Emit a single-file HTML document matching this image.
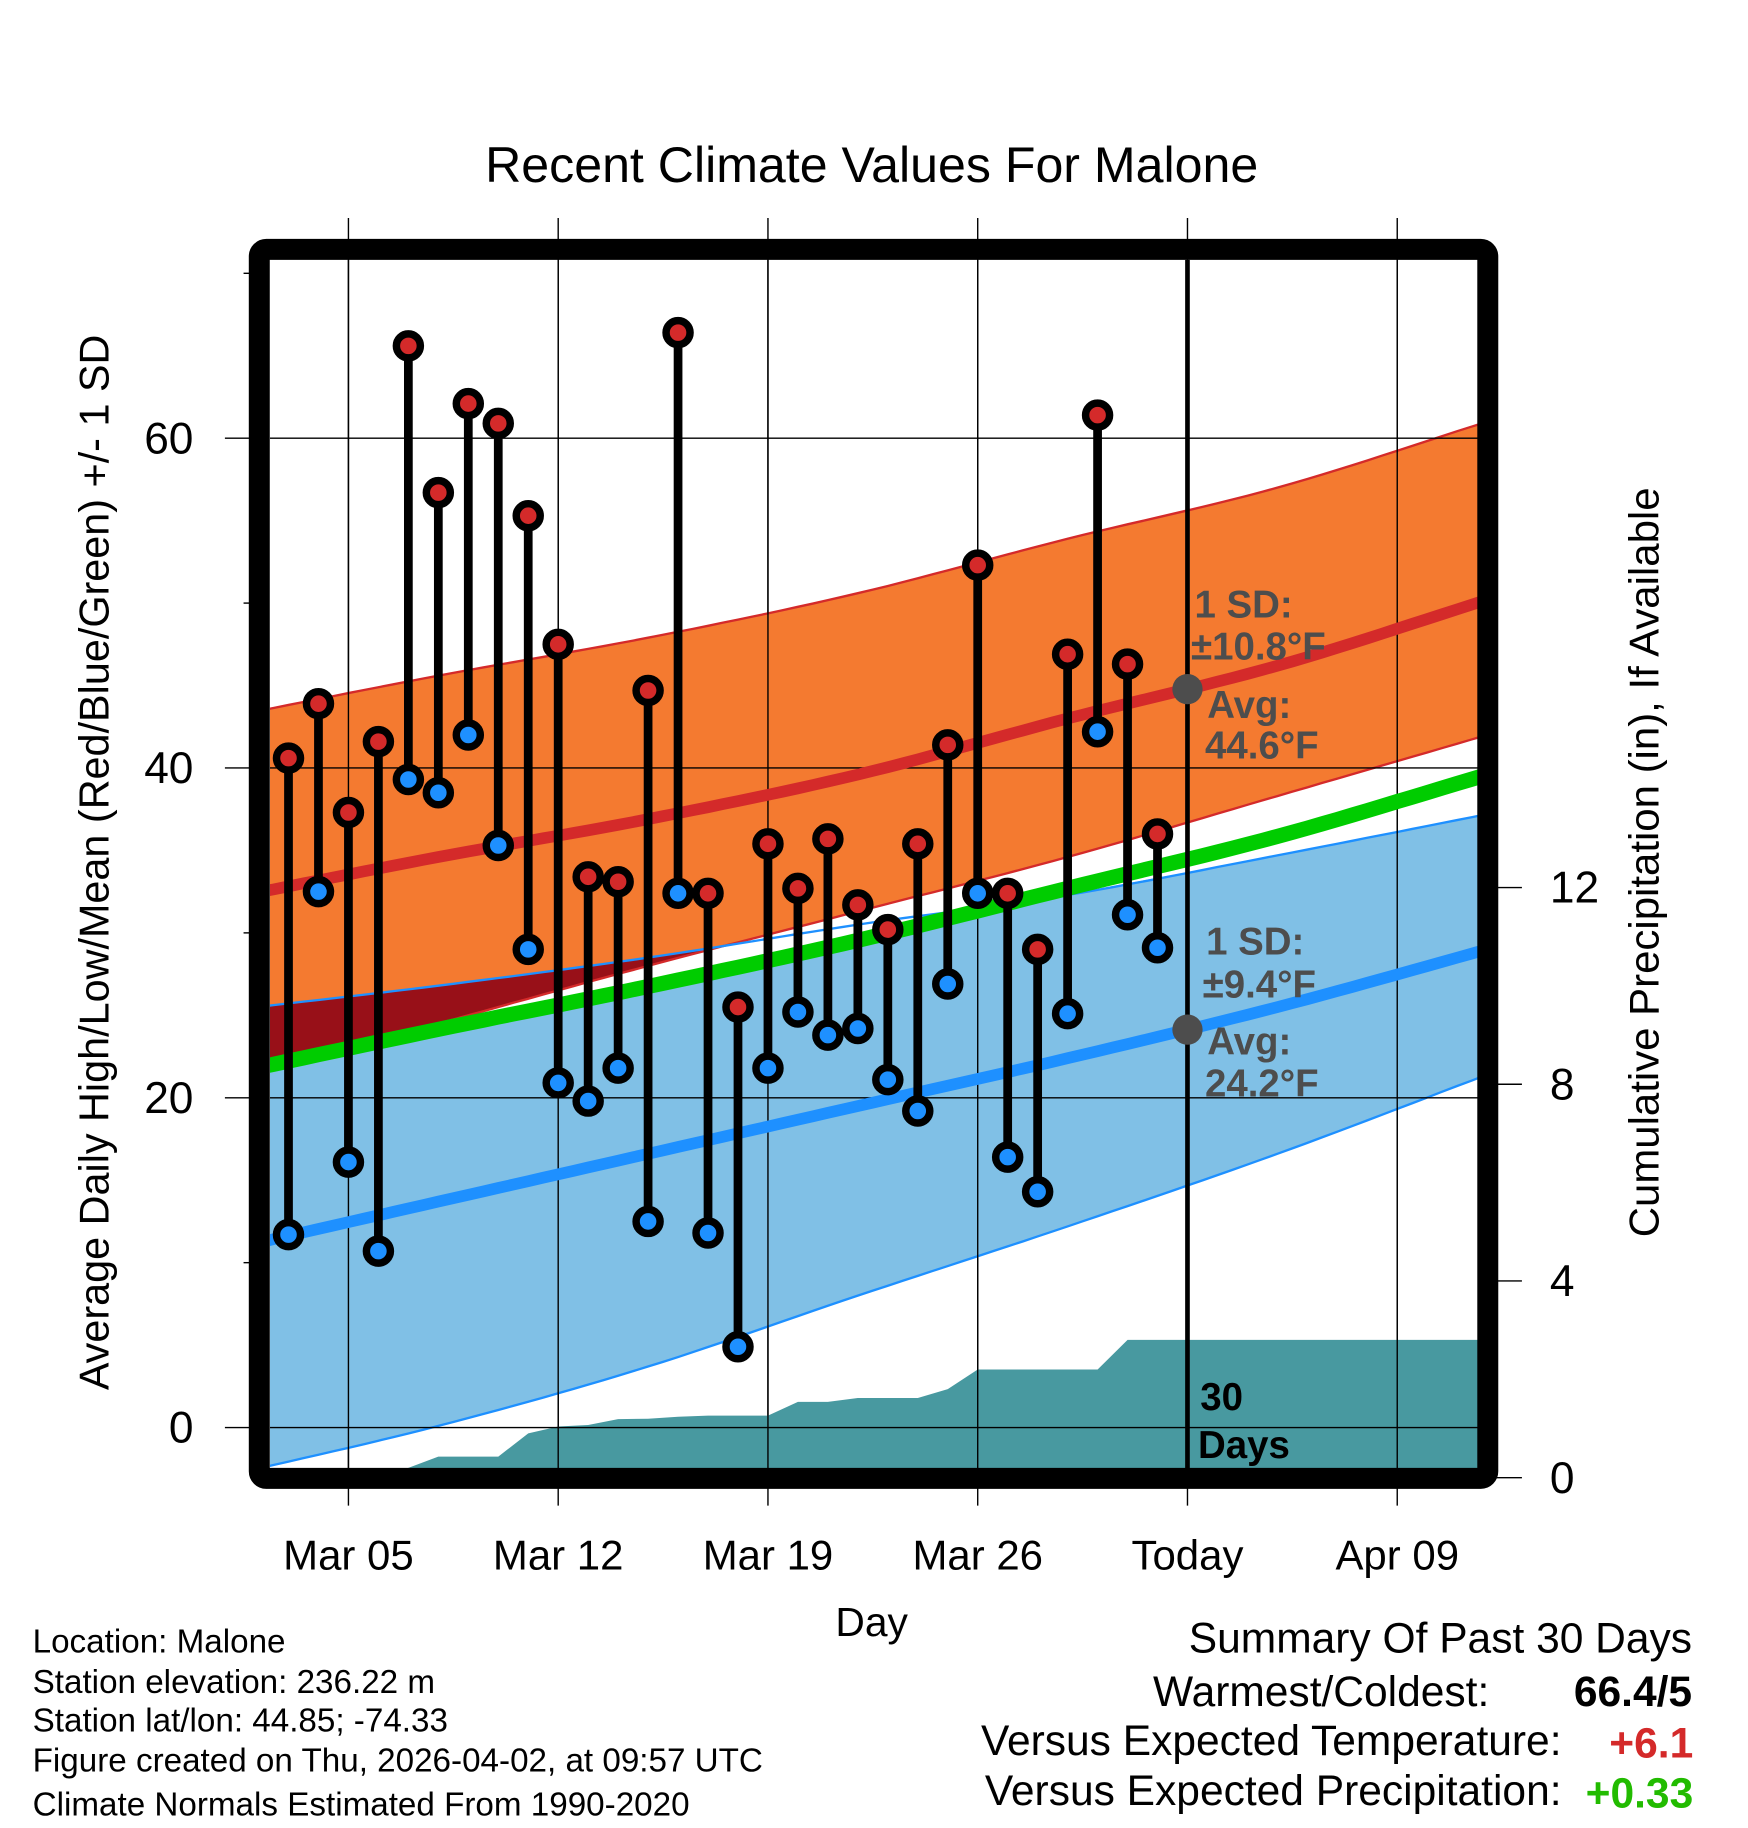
<!DOCTYPE html>
<html><head><meta charset="utf-8"><style>
html,body{margin:0;padding:0;background:#fff;}
svg{display:block;font-family:"Liberation Sans",Arial,sans-serif;}
</style></head><body>
<svg id="chart" width="1748" height="1828" viewBox="0 0 1500 1568.6" xmlns="http://www.w3.org/2000/svg">
<defs>
<clipPath id="plotClip"><rect x="231.7" y="223" width="1036.3" height="1037"/></clipPath>
<clipPath id="orangeClip"><path id="orangeClipPath" d=""/></clipPath>
</defs>
<text x="748" y="156" font-size="43" text-anchor="middle">Recent Climate Values For Malone</text>
<g id="grid"></g>
<g id="plot" clip-path="url(#plotClip)"></g>
<g id="marks"></g>
<rect x="222.5" y="214" width="1054.2" height="1054.6" rx="6" fill="none" stroke="#000" stroke-width="18"/>
<g id="axes"></g>
<text transform="translate(93,740) rotate(-90)" font-size="35.5" text-anchor="middle">Average Daily High/Low/Mean (Red/Blue/Green) +/- 1 SD</text>
<text transform="translate(1423,740) rotate(-90)" font-size="36" text-anchor="middle">Cumulative Precipitation (in), If Available</text>
<text x="748" y="1404" font-size="35" text-anchor="middle">Day</text>
<g font-size="28.5">
<text x="28" y="1418">Location: Malone</text>
<text x="28" y="1453">Station elevation: 236.22 m</text>
<text x="28" y="1486">Station lat/lon: 44.85; -74.33</text>
<text x="28" y="1520">Figure created on Thu, 2026-04-02, at 09:57 UTC</text>
<text x="28" y="1558">Climate Normals Estimated From 1990-2020</text>
</g>
<g font-size="36.5">
<text x="1452" y="1418" text-anchor="end">Summary Of Past 30 Days</text>
<text x="1278" y="1464" text-anchor="end">Warmest/Coldest:</text>
<text x="1452" y="1464" text-anchor="end" font-weight="bold">66.4/5</text>
<text x="1340" y="1506" text-anchor="end">Versus Expected Temperature:</text>
<text x="1453" y="1508" text-anchor="end" font-weight="bold" fill="#d42a2a">+6.1</text>
<text x="1340" y="1549" text-anchor="end">Versus Expected Precipitation:</text>
<text x="1453" y="1551" text-anchor="end" font-weight="bold" fill="#22bb00">+0.33</text>
</g>
</svg>
<script>
// ---- data ----
const obsDays = [2,3,4,5,6,7,8,9,10,11,12,13,14,15,16,17,18,19,20,21,22,23,24,25,26,27,28,29,30,31];
const highs = [40.6,43.9,37.3,41.6,65.6,56.7,62.1,60.9,55.3,47.5,33.4,33.1,44.7,66.4,32.4,25.5,35.4,32.7,35.7,31.7,30.2,35.4,41.4,52.3,32.4,29.0,46.9,61.4,46.3,36.0];
const lows = [11.7,32.5,16.1,10.7,39.3,38.5,42.0,35.3,29.0,20.9,19.8,21.8,12.5,32.4,11.8,4.9,21.8,25.2,23.8,24.2,21.1,19.2,26.9,32.4,16.4,14.3,25.1,42.2,31.1,29.1];
const precipCum = [0,0,0,0,0.2,0.43,0.43,0.43,0.9,1.04,1.07,1.19,1.2,1.24,1.26,1.26,1.26,1.54,1.54,1.62,1.62,1.62,1.8,2.2,2.2,2.2,2.2,2.2,2.8,2.8];
const normDays = [0,7,14,21,28,35,42];
const normHigh = [32.1,34.6,36.9,39.6,43.0,46.2,50.2];
const normHighUp = [43.1,45.6,47.9,50.6,53.9,57.0,61.0];
const normHighLo = [21.0,24.5,28.0,31.3,34.6,38.3,42.0];
const normLow = [10.8,13.7,16.6,19.5,22.4,25.5,29.0];
const normLowUp = [25.3,26.8,28.5,30.5,32.3,34.7,37.2];
const normLowLo = [-2.9,0.1,3.7,8.0,12.2,16.6,21.4];
const xTickDays = [4,11,18,25,32,39];
const xTickLabels = ["Mar 05","Mar 12","Mar 19","Mar 26","Today","Apr 09"];
const yTicks = [0,20,40,60];
const yMinorTicks = [10,30,50,70];
const y2Ticks = [0,4,8,12];
const todayDay = 32;

// ---- scales ----
const X = d => 299 + (d - 4) * 180 / 7;
const Y = v => 1225 - v * 14.15;
const Y2 = p => 1268 - p * 42.2;
const NS = "http://www.w3.org/2000/svg";
function mk(tag, parent, attrs){ const e=document.createElementNS(NS,tag); for(const k in attrs) e.setAttribute(k,attrs[k]); parent.appendChild(e); return e; }
function interp(arr, d){
  const n=normDays.length, h=normDays[1]-normDays[0];
  let i=Math.floor((d-normDays[0])/h);
  if(i < 0) i=0; if(i > n-2) i=n-2;
  const t=(d-normDays[i])/h;
  const p1=arr[i], p2=arr[i+1];
  const p0 = i>0 ? arr[i-1] : 2*p1-p2;
  const p3 = i+2<n ? arr[i+2] : 2*p2-p1;
  const t2=t*t, t3=t2*t;
  return 0.5*((2*p1)+(-p0+p2)*t+(2*p0-5*p1+4*p2-p3)*t2+(-p0+3*p1-3*p2+p3)*t3);
}
const sampleDays=[]; for(let d=0; d <= 43; d+=0.5) sampleDays.push(d);
const meanArr = normHigh.map((h,i)=>(h+normLow[i])/2);
function linePts(arr){ return sampleDays.map(d=>X(d).toFixed(1)+","+Y(interp(arr,d)).toFixed(1)).join(" "); }
function bandPath(up, lo){ const a=sampleDays.map(d=>X(d).toFixed(1)+","+Y(interp(up,d)).toFixed(1)); const b=sampleDays.slice().reverse().map(d=>X(d).toFixed(1)+","+Y(interp(lo,d)).toFixed(1)); return "M"+a.join("L")+"L"+b.join("L")+"Z"; }

const grid=document.getElementById("grid");
const plot=document.getElementById("plot");
const marks=document.getElementById("marks");
const axes=document.getElementById("axes");

let el;
el = mk("path", plot, {d: bandPath(normHighUp, normHighLo), fill:"#f47a30", stroke:"none"});


document.getElementById("orangeClipPath").setAttribute("d", bandPath(normHighUp, normHighLo));
el = mk("path", plot, {d: bandPath(normLowUp, normLowLo), fill:"#981018", stroke:"none", "clip-path":"url(#orangeClip)"});


const lowTop = normLowUp.map((u,i)=>Math.min(u, meanArr[i]));
el = mk("path", plot, {d: bandPath(lowTop, normLowLo), fill:"#80c0e6", stroke:"none"});


[[normHighUp,"#d42a2a"],[normHighLo,"#d42a2a"],[normLowUp,"#1e90ff"],[normLowLo,"#1e90ff"]].forEach(([a,c])=>{
  el = mk("polyline", plot, {points: linePts(a), fill:"none", stroke:c, "stroke-width":2});
  
  
});
(function(){
  let pts=[[X(0),Y2(0)],[X(obsDays[0]-1),Y2(0)]];
  obsDays.forEach((d,i)=>pts.push([X(d),Y2(precipCum[i])]));
  pts.push([X(44),Y2(precipCum[precipCum.length-1])],[X(44),Y2(0)]);
  el = mk("path", plot, {d:"M"+pts.map(p=>p[0].toFixed(1)+","+p[1].toFixed(1)).join("L")+"Z", fill:"#4899a0"});
  
  
})();
xTickDays.forEach(d=>{
  el = mk("line", grid, {x1:X(d), x2:X(d), y1:187, y2:1292, stroke:"#000", "stroke-width":1.2});
  
  
});
yTicks.forEach(v=>{
  el = mk("line", plot, {x1:231, x2:1268, y1:Y(v), y2:Y(v), stroke:"#000", "stroke-width":1.2});
  
  
});
xTickDays.forEach(d=>{
  el = mk("line", plot, {x1:X(d), x2:X(d), y1:223, y2:1260, stroke:"#000", "stroke-width":1.2});
  
  
});
el = mk("polyline", plot, {points: linePts(normHigh), fill:"none", stroke:"#d42a2a", "stroke-width":10});


el = mk("polyline", plot, {points: linePts(normLow), fill:"none", stroke:"#1e90ff", "stroke-width":10});


el = mk("polyline", plot, {points: linePts(meanArr), fill:"none", stroke:"#00cc00", "stroke-width":13});


el = mk("line", marks, {x1:X(todayDay), x2:X(todayDay), y1:223, y2:1262, stroke:"#000", "stroke-width":4});


obsDays.forEach((d,i)=>{
  el = mk("line", marks, {x1:X(d), x2:X(d), y1:Y(highs[i]), y2:Y(lows[i]), stroke:"#000", "stroke-width":7.5});
  
  
});
obsDays.forEach((d,i)=>{
  el = mk("circle", marks, {cx:X(d), cy:Y(highs[i]), r:10.3, fill:"#d42a2a", stroke:"#000", "stroke-width":6.4});
  
  
  el = mk("circle", marks, {cx:X(d), cy:Y(lows[i]), r:10.3, fill:"#1e90ff", stroke:"#000", "stroke-width":6.4});
  
  
});
const tx = X(todayDay);
el = mk("circle", marks, {cx:tx, cy:Y(interp(normHigh,todayDay)), r:13, fill:"#4d4d4d"});


el = mk("circle", marks, {cx:tx, cy:Y(interp(normLow,todayDay)), r:13, fill:"#4d4d4d"});


const ann = [["1 SD:",1025,530],["±10.8°F",1022,566],["Avg:",1036,616],["44.6°F",1034,651],["1 SD:",1035,819],["±9.4°F",1032,856],["Avg:",1036,905],["24.2°F",1034,941]];
ann.forEach(a=>{
  el = mk("text", marks, {x:a[1], y:a[2], "font-size":33, "font-weight":"bold", fill:"#4d4d4d"});
  el.textContent = a[0];
  
  
});
el = mk("text", marks, {x:1030, y:1210, "font-size":33, "font-weight":"bold", fill:"#000"}); el.textContent="30";


el = mk("text", marks, {x:1028, y:1251, "font-size":33, "font-weight":"bold", fill:"#000"}); el.textContent="Days";


yTicks.forEach(v=>{
  el = mk("line", axes, {x1:193, x2:222, y1:Y(v), y2:Y(v), stroke:"#000", "stroke-width":1.2});
  
  
  el = mk("text", axes, {x:166, y:Y(v)+13, "font-size":38, "text-anchor":"end"}); el.textContent=String(v);
  
  
});
yMinorTicks.forEach(v=>{
  el = mk("line", axes, {x1:209, x2:222, y1:Y(v), y2:Y(v), stroke:"#000", "stroke-width":1.2});
  
  
});
y2Ticks.forEach(p=>{
  el = mk("line", axes, {x1:1277, x2:1306, y1:Y2(p), y2:Y2(p), stroke:"#000", "stroke-width":1.2});
  
  
  el = mk("text", axes, {x:1330, y:Y2(p)+13, "font-size":38}); el.textContent=String(p);
  
  
});
xTickDays.forEach((d,i)=>{
  el = mk("text", axes, {x:X(d), y:1347, "font-size":36, "text-anchor":"middle"}); el.textContent=xTickLabels[i];
  
  
});
</script>
</body></html>
